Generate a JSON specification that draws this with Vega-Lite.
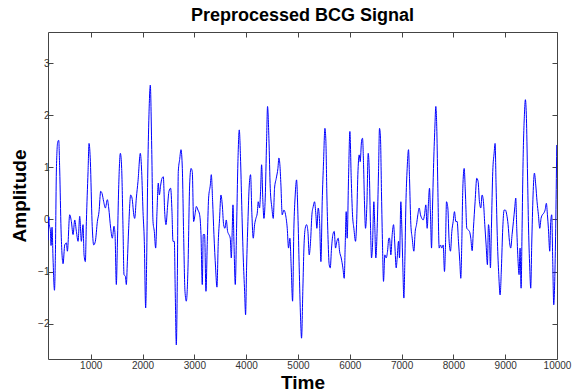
{
  "$schema": "https://vega.github.io/schema/vega-lite/v6.json",
  "width": 509,
  "height": 327,
  "autosize": {"type": "none"},
  "padding": {"left": 48, "top": 32, "right": 25, "bottom": 33},
  "background": "white",
  "config": {
    "view": {"stroke": "#444", "strokeWidth": 1},
    "font": "Liberation Sans"
  },
  "title": {
    "text": "Preprocessed BCG Signal",
    "fontSize": 18,
    "fontWeight": "bold",
    "font": "Liberation Sans",
    "color": "#000",
    "anchor": "middle",
    "offset": 7
  },
  "data": {"values": [
    {"t":176,"v":-0.4},{"t":189,"v":0.05},{"t":200,"v":-0.1},{"t":220,"v":-0.2},{"t":234,"v":-0.5},{"t":253,"v":-0.15},{"t":273,"v":-0.78},{"t":300,"v":-1.36},{"t":318,"v":-0.65},{"t":337,"v":0.95},{"t":363,"v":1.49},{"t":382,"v":1.52},{"t":401,"v":0.95},{"t":427,"v":-0.2},{"t":466,"v":-0.85},{"t":498,"v":-0.49},{"t":530,"v":-0.45},{"t":549,"v":-0.61},{"t":594,"v":0.09},{"t":626,"v":-0.04},{"t":659,"v":-0.29},{"t":691,"v":-0.01},{"t":723,"v":-0.23},{"t":755,"v":-0.42},{"t":787,"v":0.06},{"t":819,"v":-0.42},{"t":851,"v":-0.1},{"t":871,"v":-0.68},{"t":896,"v":-0.81},{"t":916,"v":-0.04},{"t":948,"v":0.92},{"t":967,"v":1.46},{"t":993,"v":1.11},{"t":1025,"v":-0.04},{"t":1057,"v":-0.49},{"t":1089,"v":-0.42},{"t":1128,"v":-0.04},{"t":1160,"v":0.15},{"t":1192,"v":0.54},{"t":1218,"v":0.5},{"t":1250,"v":0.34},{"t":1282,"v":0.22},{"t":1321,"v":0.38},{"t":1347,"v":0.22},{"t":1385,"v":-0.17},{"t":1417,"v":-0.36},{"t":1449,"v":-0.13},{"t":1469,"v":-0.29},{"t":1494,"v":-1.25},{"t":1514,"v":-0.49},{"t":1539,"v":0.6},{"t":1572,"v":1.27},{"t":1597,"v":0.98},{"t":1623,"v":-0.17},{"t":1642,"v":-1.06},{"t":1668,"v":-1.09},{"t":1687,"v":-1.25},{"t":1707,"v":-0.81},{"t":1732,"v":-0.17},{"t":1771,"v":0.47},{"t":1797,"v":0.41},{"t":1835,"v":0.06},
    {"t":1848,"v":0.02},{"t":1880,"v":0.41},{"t":1912,"v":0.73},{"t":1957,"v":1.27},{"t":1983,"v":0.92},{"t":2009,"v":0.15},{"t":2034,"v":-0.42},{"t":2060,"v":-1.7},{"t":2079,"v":-0.81},{"t":2099,"v":0.79},{"t":2124,"v":2.01},{"t":2150,"v":2.58},{"t":2176,"v":1.43},{"t":2202,"v":-0.04},{"t":2227,"v":-0.23},{"t":2253,"v":-0.55},{"t":2279,"v":0.15},{"t":2304,"v":0.7},{"t":2324,"v":0.47},{"t":2350,"v":0.66},{"t":2375,"v":0.79},{"t":2401,"v":0.82},{"t":2427,"v":0.15},{"t":2452,"v":-0.1},{"t":2485,"v":0.28},{"t":2510,"v":0.54},{"t":2542,"v":0.6},{"t":2568,"v":0.15},{"t":2587,"v":-0.42},{"t":2613,"v":-0.42},{"t":2632,"v":-1.45},{"t":2652,"v":-2.41},{"t":2671,"v":-1.19},{"t":2690,"v":0.92},{"t":2716,"v":1.15},{"t":2742,"v":1.34},{"t":2768,"v":0.98},{"t":2793,"v":-0.29},{"t":2819,"v":-1.38},{"t":2845,"v":-1.57},{"t":2877,"v":-0.93},{"t":2909,"v":0.66},{"t":2935,"v":0.98},{"t":2960,"v":0.92},{"t":2986,"v":-0.04},{"t":3012,"v":0.09},{"t":3038,"v":0.25},{"t":3070,"v":0.18},{"t":3102,"v":0.09},{"t":3128,"v":-0.29},{"t":3153,"v":-1.25},{"t":3172,"v":-0.29},{"t":3198,"v":-0.29},{"t":3224,"v":-1.38},{"t":3250,"v":-0.42},{"t":3275,"v":0.41},{"t":3308,"v":0.66},{"t":3327,"v":0.86},{"t":3353,"v":0.34},{"t":3378,"v":-0.29},{"t":3410,"v":-0.93},{"t":3436,"v":-1.3},{"t":3462,"v":-0.42},
    {"t":3487,"v":0.02},{"t":3513,"v":0.47},{"t":3539,"v":0.28},{"t":3565,"v":-0.1},{"t":3590,"v":-0.17},{"t":3616,"v":-0.01},{"t":3642,"v":-0.23},{"t":3667,"v":-0.29},{"t":3693,"v":-0.36},{"t":3713,"v":-0.74},{"t":3732,"v":-0.17},{"t":3745,"v":0.28},{"t":3764,"v":-0.42},{"t":3790,"v":-1.25},{"t":3815,"v":-0.17},{"t":3841,"v":1.11},{"t":3867,"v":1.72},{"t":3893,"v":1.11},{"t":3918,"v":0.15},{"t":3944,"v":-0.74},{"t":3970,"v":-1.38},{"t":3989,"v":-1.83},{"t":4008,"v":-0.93},{"t":4034,"v":-0.04},{"t":4060,"v":0.66},{"t":4085,"v":0.86},{"t":4111,"v":0.09},{"t":4137,"v":-0.36},{"t":4163,"v":-0.1},{"t":4188,"v":0.02},{"t":4214,"v":0.12},{"t":4233,"v":0.34},{"t":4259,"v":0.22},{"t":4278,"v":0.54},{"t":4298,"v":1.05},{"t":4323,"v":0.34},{"t":4343,"v":0.02},{"t":4368,"v":0.41},{"t":4394,"v":1.5},{"t":4413,"v":2.17},{"t":4439,"v":1.56},{"t":4465,"v":0.6},{"t":4497,"v":0.22},{"t":4523,"v":0.02},{"t":4548,"v":0.6},{"t":4581,"v":0.79},{"t":4613,"v":0.98},{"t":4632,"v":1.18},{"t":4651,"v":1.05},{"t":4671,"v":0.66},{"t":4696,"v":0.09},{"t":4728,"v":0.18},{"t":4761,"v":0.09},{"t":4793,"v":-0.17},{"t":4818,"v":-0.55},{"t":4844,"v":-0.36},{"t":4870,"v":-0.93},{"t":4896,"v":-1.57},{"t":4921,"v":-0.17},{"t":4947,"v":0.47},{"t":4973,"v":0.76},{"t":4999,"v":0.09},{"t":5024,"v":-0.93},{"t":5050,"v":-1.89},{"t":5069,"v":-2.28},
    {"t":5095,"v":-1.32},{"t":5115,"v":-0.55},{"t":5140,"v":-0.17},{"t":5166,"v":-0.1},{"t":5192,"v":-0.23},{"t":5217,"v":-0.68},{"t":5243,"v":-0.42},{"t":5269,"v":0.09},{"t":5295,"v":0.25},{"t":5320,"v":0.34},{"t":5346,"v":0.09},{"t":5365,"v":-0.17},{"t":5391,"v":0.22},{"t":5417,"v":-0.04},{"t":5443,"v":-0.81},{"t":5468,"v":0.34},{"t":5494,"v":1.11},{"t":5520,"v":1.75},{"t":5539,"v":1.5},{"t":5558,"v":0.47},{"t":5578,"v":-0.29},{"t":5603,"v":-0.87},{"t":5623,"v":-0.93},{"t":5648,"v":-0.55},{"t":5674,"v":-0.29},{"t":5700,"v":-0.23},{"t":5725,"v":-0.55},{"t":5751,"v":-0.42},{"t":5777,"v":-0.36},{"t":5803,"v":-0.61},{"t":5835,"v":-0.74},{"t":5867,"v":-0.93},{"t":5893,"v":-1.13},{"t":5912,"v":-0.49},{"t":5931,"v":0.15},{"t":5950,"v":-0.36},{"t":5976,"v":0.79},{"t":6002,"v":1.69},{"t":6028,"v":0.79},{"t":6053,"v":0.09},{"t":6079,"v":-0.17},{"t":6111,"v":-0.42},{"t":6131,"v":-0.1},{"t":6156,"v":0.86},{"t":6182,"v":1.24},{"t":6201,"v":1.11},{"t":6227,"v":1.5},{"t":6246,"v":1.56},{"t":6266,"v":1.05},{"t":6285,"v":0.28},{"t":6304,"v":-0.17},{"t":6330,"v":0.28},{"t":6356,"v":1.27},{"t":6375,"v":0.98},{"t":6401,"v":-0.17},{"t":6420,"v":-0.74},{"t":6439,"v":-0.49},{"t":6465,"v":0.34},{"t":6484,"v":-0.17},{"t":6503,"v":-0.74},{"t":6529,"v":-0.17},{"t":6555,"v":0.92},{"t":6574,"v":1.75},{"t":6593,"v":1.56},{"t":6613,"v":0.47},{"t":6632,"v":-0.49},{"t":6651,"v":-1.19},{"t":6677,"v":-0.68},{"t":6703,"v":-0.74},{"t":6729,"v":-0.61},{"t":6754,"v":-0.36},
    {"t":6767,"v":-0.36},{"t":6793,"v":-0.68},{"t":6819,"v":-0.29},{"t":6845,"v":-0.1},{"t":6870,"v":-0.49},{"t":6896,"v":-0.93},{"t":6915,"v":-0.74},{"t":6941,"v":-0.42},{"t":6960,"v":-0.74},{"t":6986,"v":0.34},{"t":7005,"v":-0.17},{"t":7025,"v":-0.93},{"t":7044,"v":-1.51},{"t":7063,"v":-0.81},{"t":7083,"v":0.28},{"t":7108,"v":0.98},{"t":7134,"v":1.34},{"t":7153,"v":0.79},{"t":7179,"v":-0.1},{"t":7205,"v":-0.36},{"t":7237,"v":-0.61},{"t":7263,"v":-0.23},{"t":7288,"v":-0.1},{"t":7314,"v":0.09},{"t":7340,"v":0.22},{"t":7365,"v":0.09},{"t":7391,"v":0.02},{"t":7417,"v":-0.01},{"t":7443,"v":0.09},{"t":7468,"v":0.28},{"t":7494,"v":-0.17},{"t":7520,"v":0.34},{"t":7539,"v":0.6},{"t":7558,"v":0.09},{"t":7578,"v":-0.55},{"t":7597,"v":0.22},{"t":7616,"v":0.98},{"t":7642,"v":1.75},{"t":7661,"v":2.17},{"t":7681,"v":1.69},{"t":7700,"v":0.6},{"t":7726,"v":-0.55},{"t":7751,"v":-0.49},{"t":7777,"v":-0.55},{"t":7803,"v":-0.49},{"t":7828,"v":-1.0},{"t":7848,"v":-0.49},{"t":7867,"v":0.34},{"t":7893,"v":0.22},{"t":7918,"v":-0.42},{"t":7944,"v":-0.61},{"t":7970,"v":-0.23},{"t":7996,"v":-0.04},{"t":8021,"v":0.15},{"t":8047,"v":-0.04},{"t":8073,"v":-0.04},{"t":8098,"v":-0.42},{"t":8124,"v":-0.81},{"t":8143,"v":-1.13},{"t":8163,"v":-0.42},{"t":8182,"v":0.6},{"t":8208,"v":0.98},{"t":8233,"v":0.47},{"t":8259,"v":-0.17},{"t":8285,"v":-0.2},{"t":8311,"v":-0.23},{"t":8336,"v":-0.36},{"t":8362,"v":-0.6},
    {"t":8387,"v":-0.17},{"t":8419,"v":0.34},{"t":8451,"v":0.79},{"t":8477,"v":0.73},{"t":8503,"v":0.34},{"t":8529,"v":0.22},{"t":8554,"v":0.47},{"t":8580,"v":0.34},{"t":8606,"v":-0.1},{"t":8632,"v":-0.49},{"t":8657,"v":-0.87},{"t":8677,"v":-0.1},{"t":8696,"v":-0.29},{"t":8715,"v":-0.93},{"t":8734,"v":-0.17},{"t":8760,"v":0.92},{"t":8786,"v":1.27},{"t":8805,"v":1.46},{"t":8824,"v":0.66},{"t":8850,"v":-0.42},{"t":8876,"v":-1.06},{"t":8902,"v":-1.45},{"t":8927,"v":-0.93},{"t":8953,"v":-0.17},{"t":8979,"v":0.18},{"t":9004,"v":0.18},{"t":9030,"v":0.09},{"t":9056,"v":-0.1},{"t":9082,"v":-0.42},{"t":9107,"v":-0.55},{"t":9133,"v":-0.29},{"t":9159,"v":-0.04},{"t":9184,"v":0.22},{"t":9204,"v":0.41},{"t":9223,"v":-0.17},{"t":9249,"v":-0.81},{"t":9268,"v":-1.06},{"t":9287,"v":-0.55},{"t":9307,"v":-1.32},{"t":9326,"v":-0.17},{"t":9345,"v":1.11},{"t":9371,"v":2.01},{"t":9390,"v":2.3},{"t":9410,"v":1.94},{"t":9429,"v":0.98},{"t":9448,"v":-0.04},{"t":9474,"v":-0.93},{"t":9493,"v":-1.32},{"t":9512,"v":-0.49},{"t":9538,"v":0.47},{"t":9564,"v":0.89},{"t":9590,"v":0.66},{"t":9615,"v":0.34},{"t":9641,"v":0.09},{"t":9667,"v":-0.17},{"t":9692,"v":0.02},{"t":9718,"v":0.09},{"t":9744,"v":0.12},{"t":9770,"v":0.18},{"t":9795,"v":0.31},{"t":9815,"v":0.09},{"t":9834,"v":-0.17},{"t":9860,"v":-0.61},{"t":9879,"v":-0.04},{"t":9898,"v":0.09},{"t":9918,"v":-0.81},{"t":9937,"v":-1.64},{"t":9956,"v":-1.19},{"t":9975,"v":-0.17},{"t":9995,"v":1.43}
  ]},
  "resolve": {"axis": {"x": "independent", "y": "independent"}},
  "layer": [
    {
      "mark": {"type": "line", "color": "#0000ff", "strokeWidth": 1, "clip": true, "interpolate": "monotone"},
      "encoding": {
        "x": {
          "field": "t", "type": "quantitative",
          "scale": {"domain": [175, 10000], "nice": false, "zero": false},
          "axis": {
            "title": "Time", "titleFontSize": 19, "titleFontWeight": "bold", "titleColor": "#000", "titleFont": "Liberation Sans",
            "titlePadding": 3,
            "values": [1000, 2000, 3000, 4000, 5000, 6000, 7000, 8000, 9000, 10000],
            "format": "d", "labelFontSize": 10, "labelColor": "#333", "labelFont": "Liberation Sans",
            "tickSize": -5, "tickColor": "#444", "labelPadding": 6,
            "domain": false, "grid": false, "labelFlush": false
          }
        },
        "y": {
          "field": "v", "type": "quantitative",
          "scale": {"domain": [-2.68, 3.6], "nice": false, "zero": false},
          "axis": {
            "title": "Amplitude", "titleFontSize": 19, "titleFontWeight": "bold", "titleColor": "#000", "titleFont": "Liberation Sans",
            "titlePadding": 8,
            "values": [-2, -1, 0, 1, 2, 3],
            "format": "d", "labelFontSize": 10, "labelColor": "#333", "labelFont": "Liberation Sans",
            "tickSize": -5, "tickColor": "#444", "labelPadding": 4,
            "domain": false, "grid": false
          }
        }
      }
    },
    {
      "mark": {"type": "line", "strokeOpacity": 0, "clip": true},
      "encoding": {
        "x": {
          "field": "t", "type": "quantitative",
          "scale": {"domain": [175, 10000], "nice": false, "zero": false},
          "axis": {"orient": "top", "title": null, "labels": false, "values": [1000, 2000, 3000, 4000, 5000, 6000, 7000, 8000, 9000, 10000], "tickSize": -5, "tickColor": "#444", "domain": false, "grid": false}
        },
        "y": {
          "field": "v", "type": "quantitative",
          "scale": {"domain": [-2.68, 3.6], "nice": false, "zero": false},
          "axis": {"orient": "right", "title": null, "labels": false, "values": [-2, -1, 0, 1, 2, 3], "tickSize": -5, "tickColor": "#444", "domain": false, "grid": false}
        }
      }
    }
  ]
}
